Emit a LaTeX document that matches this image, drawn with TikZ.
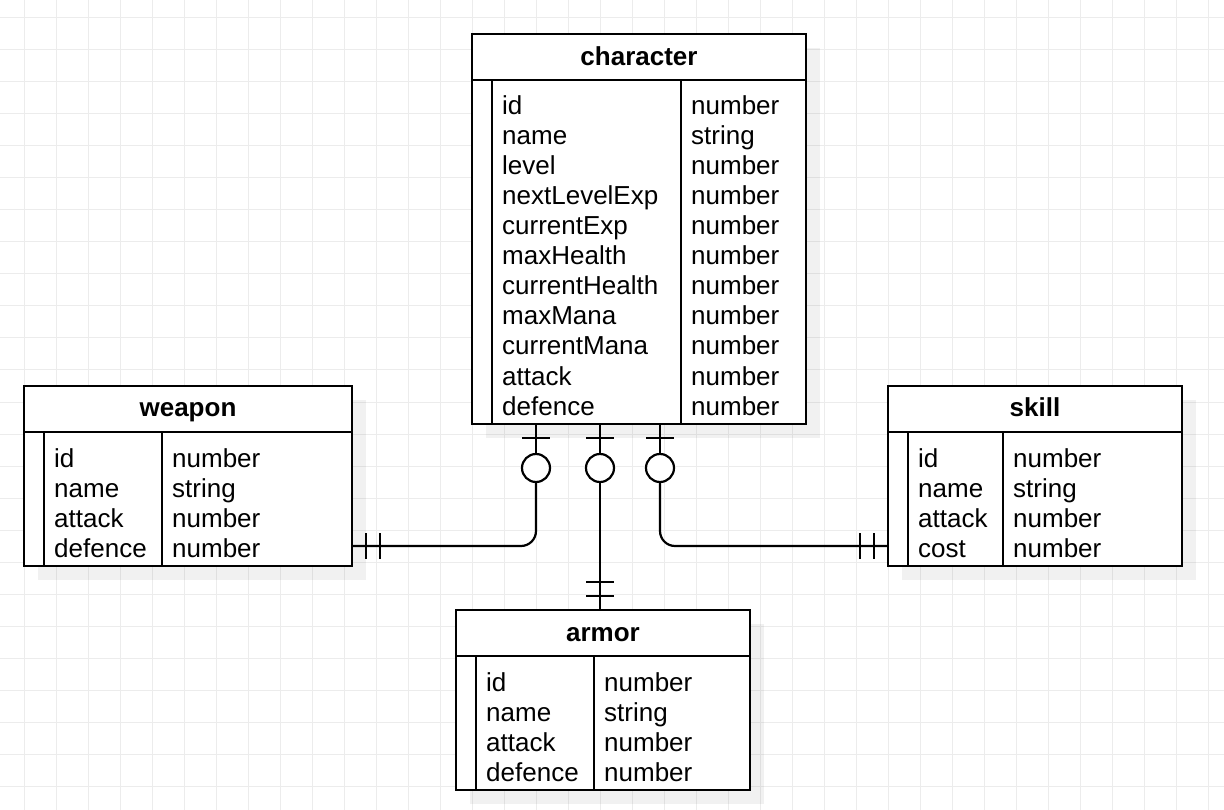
\documentclass[tikz,border=0pt]{standalone}
\usepackage{fontspec}
\setmainfont{Liberation Sans}
\definecolor{gridc}{RGB}{236,236,236}
\tikzset{
  gridline/.style={draw=gridc, line width=1pt},
  shad/.style={fill=black, fill opacity=0.055, draw=none},
  tbox/.style={draw=black, fill=white, line width=2.2pt, inner sep=0pt, outer sep=0pt, anchor=north west, rectangle},
  tline/.style={draw=black, line width=2.2pt},
  ttl/.style={inner sep=0pt, anchor=base, font=\fontsize{26pt}{30pt}\selectfont\bfseries},
  fld/.style={inner sep=0pt, anchor=base west, font=\fontsize{26pt}{30pt}\selectfont},
  conn/.style={draw=black, line width=2.2pt},
  zcirc/.style={circle, draw=black, fill=white, line width=2.2pt, minimum size=28pt, inner sep=0pt, outer sep=0pt},
}
\begin{document}
\begin{tikzpicture}[x=1pt,y=-1pt]
\useasboundingbox (0,0) rectangle (1224,810);
% grid
\foreach \x in {24,56,...,1208} \draw[gridline] (\x,0) -- (\x,810);
\foreach \y in {18,50,...,802} \draw[gridline] (0,\y) -- (1224,\y);

% shadows
\fill[shad] (486,48) rectangle (820,438);
\fill[shad] (38,400) rectangle (366,580);
\fill[shad] (902,400) rectangle (1196,580);
\fill[shad] (470,624) rectangle (764,804);

% ---------- character ----------
\node[tbox, minimum width=334pt, minimum height=390pt] (char) at (472,34) {};
\draw[tline] (472,80) -- (806,80);
\draw[tline] (492,80) -- (492,424);
\draw[tline] (681,80) -- (681,424);
\node[ttl] (chart) at (639,66) {character};
\foreach \t [count=\i] in {id,name,level,nextLevelExp,currentExp,maxHealth,currentHealth,maxMana,currentMana,attack,defence}
  \node[fld] (cn\i) at (502,{115+30*(\i-1)}) {\t};
\foreach \t [count=\i] in {number,string,number,number,number,number,number,number,number,number,number}
  \node[fld] (ct\i) at (691,{115+30*(\i-1)}) {\t};

% ---------- weapon ----------
\node[tbox, minimum width=328pt, minimum height=180pt] (weapon) at (24,386) {};
\draw[tline] (24,432) -- (352,432);
\draw[tline] (44,432) -- (44,566);
\draw[tline] (162,432) -- (162,566);
\node[ttl] (weapont) at (188,417) {weapon};
\foreach \t [count=\i] in {id,name,attack,defence}
  \node[fld] (wn\i) at (54,{467+30*(\i-1)}) {\t};
\foreach \t [count=\i] in {number,string,number,number}
  \node[fld] (wt\i) at (172,{467+30*(\i-1)}) {\t};

% ---------- skill ----------
\node[tbox, minimum width=294pt, minimum height=180pt] (skill) at (888,386) {};
\draw[tline] (888,432) -- (1182,432);
\draw[tline] (908,432) -- (908,566);
\draw[tline] (1003,432) -- (1003,566);
\node[ttl] (skillt) at (1035,417) {skill};
\foreach \t [count=\i] in {id,name,attack,cost}
  \node[fld] (sn\i) at (918,{467+30*(\i-1)}) {\t};
\foreach \t [count=\i] in {number,string,number,number}
  \node[fld] (st\i) at (1013,{467+30*(\i-1)}) {\t};

% ---------- armor ----------
\node[tbox, minimum width=294pt, minimum height=180pt] (armor) at (456,610) {};
\draw[tline] (456,656) -- (750,656);
\draw[tline] (476,656) -- (476,790);
\draw[tline] (594,656) -- (594,790);
\node[ttl] (armort) at (603,641) {armor};
\foreach \t [count=\i] in {id,name,attack,defence}
  \node[fld] (an\i) at (486,{691+30*(\i-1)}) {\t};
\foreach \t [count=\i] in {number,string,number,number}
  \node[fld] (at\i) at (604,{691+30*(\i-1)}) {\t};

% ---------- connectors ----------
\coordinate (c1) at ([xshift=64pt]char.south west);
\coordinate (c2) at ([xshift=128pt]char.south west);
\coordinate (c3) at ([xshift=188pt]char.south west);
\node[zcirc] (o1) at ([yshift=-44pt]c1) {};
\node[zcirc] (o2) at ([yshift=-44pt]c2) {};
\node[zcirc] (o3) at ([yshift=-44pt]c3) {};
\coordinate (w1) at ([yshift=20pt]weapon.south east);
\coordinate (s1) at ([yshift=20pt]skill.south west);
\coordinate (a1) at (armor.north -| c2);

% weapon link
\draw[conn] (c1) -- (o1.north);
\draw[conn, rounded corners=15pt] (o1.south) |- (w1);
\draw[conn] ([xshift=-14pt,yshift=-14pt]c1) -- ([xshift=14pt,yshift=-14pt]c1);
\draw[conn] ([xshift=14pt,yshift=13pt]w1) -- ([xshift=14pt,yshift=-13pt]w1);
\draw[conn] ([xshift=28pt,yshift=13pt]w1) -- ([xshift=28pt,yshift=-13pt]w1);

% armor link
\draw[conn] (c2) -- (o2.north);
\draw[conn] (o2.south) -- (a1);
\draw[conn] ([xshift=-14pt,yshift=-14pt]c2) -- ([xshift=14pt,yshift=-14pt]c2);
\draw[conn] ([xshift=-14pt,yshift=14pt]a1) -- ([xshift=14pt,yshift=14pt]a1);
\draw[conn] ([xshift=-14pt,yshift=28pt]a1) -- ([xshift=14pt,yshift=28pt]a1);

% skill link
\draw[conn] (c3) -- (o3.north);
\draw[conn, rounded corners=15pt] (o3.south) |- (s1);
\draw[conn] ([xshift=-14pt,yshift=-14pt]c3) -- ([xshift=14pt,yshift=-14pt]c3);
\draw[conn] ([xshift=-14pt,yshift=13pt]s1) -- ([xshift=-14pt,yshift=-13pt]s1);
\draw[conn] ([xshift=-28pt,yshift=13pt]s1) -- ([xshift=-28pt,yshift=-13pt]s1);
\end{tikzpicture}
\end{document}
